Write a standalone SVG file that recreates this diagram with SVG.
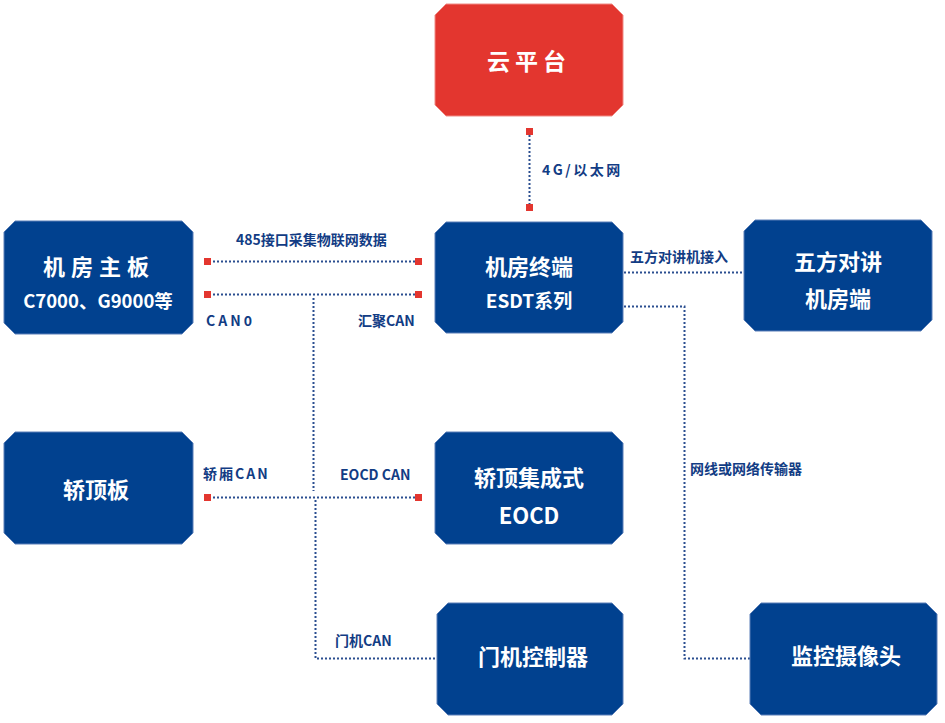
<svg xmlns="http://www.w3.org/2000/svg" width="945" height="723" viewBox="0 0 945 723">
<defs>
<style>
.node{fill:#01418F;stroke:#5B7FB8;stroke-width:1}
.red{fill:#E3362F;stroke:#F08A85;stroke-width:1}
.nt{fill:#fff;font-family:"Noto Sans CJK SC","Noto Sans",sans-serif;font-weight:bold;text-anchor:middle}
.lb{fill:#123C84;font-family:"Noto Sans CJK SC","Noto Sans",sans-serif;font-weight:bold;font-size:14px}
.ln{fill:none;stroke:#2B4E90;stroke-width:2;stroke-dasharray:2 2}
.sq{fill:#E3362F}
</style>
</defs>
<rect width="945" height="723" fill="#fff"/>
<g id="connectors">
<line class="ln" x1="529.5" y1="135" x2="529.5" y2="204"/>
<rect class="sq" x="526" y="128" width="7" height="7"/>
<rect class="sq" x="526" y="204" width="7" height="7"/>
<line class="ln" x1="213" y1="261.5" x2="415" y2="261.5"/>
<rect class="sq" x="204" y="258" width="7" height="7"/>
<rect class="sq" x="415" y="258" width="7" height="7"/>
<line class="ln" x1="213" y1="294.5" x2="415" y2="294.5"/>
<rect class="sq" x="204" y="291" width="7" height="7"/>
<rect class="sq" x="415" y="291" width="7" height="7"/>
<line class="ln" x1="313.5" y1="298" x2="313.5" y2="491"/>
<line class="ln" x1="213" y1="497.5" x2="415" y2="497.5"/>
<rect class="sq" x="204" y="494" width="7" height="7"/>
<rect class="sq" x="415" y="494" width="7" height="7"/>
<polyline class="ln" points="315.5,500 315.5,658.5 437,658.5"/>
<line class="ln" x1="624" y1="272.5" x2="744" y2="272.5"/>
<polyline class="ln" points="624,306.5 684.5,306.5 684.5,658.5 750,658.5"/>
<text class="lb" x="542" y="175" letter-spacing="2.5">4G/以太网</text>
<text class="lb" x="236" y="245">485接口采集物联网数据</text>
<text class="lb" x="206" y="326" letter-spacing="3">CAN0</text>
<text class="lb" x="358" y="326">汇聚CAN</text>
<text class="lb" x="630" y="262">五方对讲机接入</text>
<text class="lb" x="690" y="474">网线或网络传输器</text>
<text class="lb" x="203" y="479" letter-spacing="2">轿厢CAN</text>
<text class="lb" x="340" y="480">EOCD CAN</text>
<text class="lb" x="335" y="646">门机CAN</text>
</g>
<g id="cloud">
<polygon class="red" points="446,4 612,4 623,15 623,105 612,116 446,116 435,105 435,15"/>
<text class="nt" x="529" y="70" font-size="23" letter-spacing="5">云平台</text>
</g>
<g id="mainboard">
<polygon class="node" points="15,221 182,221 193,232 193,323 182,334 15,334 4,323 4,232"/>
<text class="nt" x="99" y="275" font-size="22" letter-spacing="6">机房主板</text>
<text class="nt" x="98" y="308" font-size="18.5">C7000、G9000等</text>
</g>
<g id="terminal">
<polygon class="node" points="446,222 612,222 623,233 623,322 612,333 446,333 435,322 435,233"/>
<text class="nt" x="529" y="275" font-size="22">机房终端</text>
<text class="nt" x="529" y="308" font-size="19">ESDT系列</text>
</g>
<g id="intercom">
<polygon class="node" points="755,220 921,220 932,231 932,320 921,331 755,331 744,320 744,231"/>
<text class="nt" x="838" y="270" font-size="22">五方对讲</text>
<text class="nt" x="838" y="307" font-size="22">机房端</text>
</g>
<g id="cartop">
<polygon class="node" points="15,432 182,432 193,443 193,533 182,544 15,544 4,533 4,443"/>
<text class="nt" x="96" y="498" font-size="22">轿顶板</text>
</g>
<g id="eocd">
<polygon class="node" points="446,432 612,432 623,443 623,533 612,544 446,544 435,533 435,443"/>
<text class="nt" x="529" y="486" font-size="22">轿顶集成式</text>
<text class="nt" x="529" y="524" font-size="22">EOCD</text>
</g>
<g id="door">
<polygon class="node" points="448,603 612,603 623,614 623,704 612,715 448,715 437,704 437,614"/>
<text class="nt" x="533" y="665" font-size="22">门机控制器</text>
</g>
<g id="camera">
<polygon class="node" points="761,603 926,603 937,614 937,704 926,715 761,715 750,704 750,614"/>
<text class="nt" x="846" y="664" font-size="22">监控摄像头</text>
</g>
</svg>
